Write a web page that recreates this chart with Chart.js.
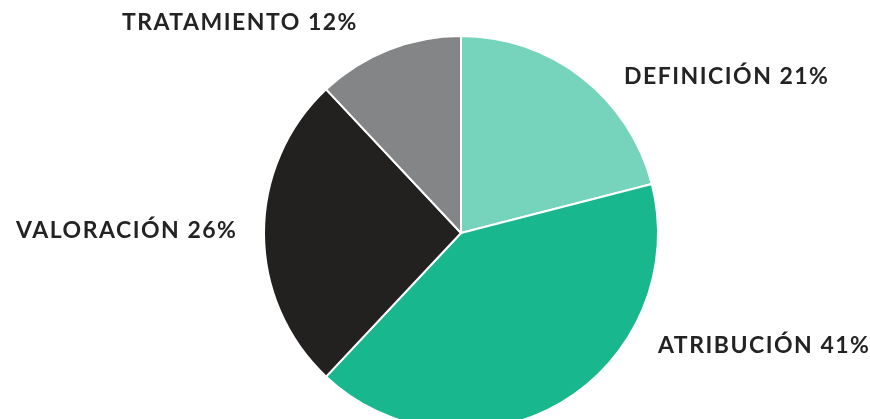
<!DOCTYPE html>
<html>
<head>
<meta charset="utf-8">
<script src="https://cdn.jsdelivr.net/npm/chart.js@4"></script>
<style>
  html, body { margin: 0; padding: 0; background: #fff; overflow: hidden; }
  #wrap { width: 870px; height: 419px; overflow: hidden; }
</style>
</head>
<body>
<div id="wrap"><canvas id="grafico" width="870" height="466"></canvas></div>
<script>
var categorias = ['DEFINICIÓN', 'ATRIBUCIÓN', 'VALORACIÓN', 'TRATAMIENTO'];
var porcentajes = [21, 41, 26, 12];
var colores = ['#76d3bc', '#19b78d', '#222120', '#848586'];

// where each label sits, relative to the pie centre in units of the radius
var anclas = [
    { dx: 0.827, dy: -0.796, align: 'left' },
    { dx: 1.0, dy: 0.571, align: 'left' },
    { dx: -1.135, dy: -0.01, align: 'right' },
    { dx: -0.523, dy: -1.066, align: 'right' }
];

var etiquetas = {
    id: 'etiquetas',
    afterDraw: function (chart) {
        var ctx = chart.ctx;
        var arcs = chart.getDatasetMeta(0).data;
        ctx.save();
        ctx.fillStyle = '#232323';
        ctx.font = 'bold 23px Lato';
        ctx.letterSpacing = '1.5px';
        ctx.textBaseline = 'middle';
        arcs.forEach(function (arc, i) {
            var r = arc.outerRadius;
            var a = anclas[i];
            ctx.textAlign = a.align;
            ctx.fillText(categorias[i] + ' ' + porcentajes[i] + '%', arc.x + a.dx * r, arc.y + a.dy * r);
        });
        ctx.restore();
    }
};

var ctx = document.getElementById('grafico').getContext('2d');
var graficoPie = new Chart(ctx, {
    type: 'pie',
    data: {
        labels: categorias,
        datasets: [{
            data: porcentajes,
            backgroundColor: colores,
            borderColor: '#ffffff',
            borderWidth: 2
        }]
    },
    options: {
        responsive: false,
        animation: false,
        devicePixelRatio: 1,
        layout: {
            padding: { top: 35, bottom: 35, left: 52, right: 0 }
        },
        plugins: {
            legend: { display: false },
            tooltip: { enabled: false }
        }
    },
    plugins: [etiquetas]
});
</script>
</body>
</html>
